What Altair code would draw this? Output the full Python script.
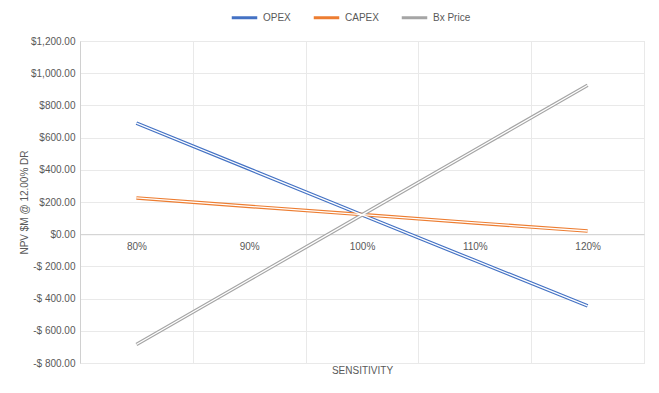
import altair as alt
import pandas as pd

sensitivity = [0.8, 0.9, 1.0, 1.1, 1.2]
opex = [690, 405, 120, -163, -445]
capex = [225, 173, 122, 70, 20]
bx_price = [-685, -283, 120, 523, 925]
series_names = ["OPEX", "CAPEX", "Bx Price"]
series_colors = ["#4472C4", "#ED7D31", "#A5A5A5"]
y_ticks = [-800, -600, -400, -200, 0, 200, 400, 600, 800, 1000, 1200]
x_grid = [0.75, 0.85, 0.95, 1.05, 1.15, 1.25]

rows = []
for name, vals in zip(series_names, [opex, capex, bx_price]):
    for s, v in zip(sensitivity, vals):
        rows.append({"series": name, "sens": s, "value": v})
df = pd.DataFrame(rows)

FONT = "Liberation Sans"
TXT = "#595959"
GRID = "#e9e9e9"
DOMAIN = "#d0d0d0"
W, H = 564, 322

yscale = alt.Scale(domain=[-800, 1200], nice=False, zero=False)
xscale = alt.Scale(domain=[0.75, 1.25], nice=False, zero=False)

y_axis = alt.Axis(
    values=y_ticks,
    labelExpr="datum.value >= 0 ? '$' + format(datum.value, ',.2f') : '-$ ' + format(-datum.value, ',.2f')",
    grid=True, gridColor=GRID, domain=True, domainColor=DOMAIN,
    ticks=False, tickSize=0, labelPadding=5,
    labelFont=FONT, labelFontSize=10, labelColor=TXT,
    title="NPV $M @ 12.00% DR", titleFont=FONT, titleFontSize=10, titleColor=TXT,
    titleFontWeight="normal", titleAngle=270, titleX=-56, titleY=H / 2,
    titleBaseline="middle", titleAlign="center",
)

zero_offset = -(0 - (-800)) / 2000 * H

grid_axis = alt.Axis(values=x_grid, grid=True, gridColor=GRID, labels=False, ticks=False,
                     domain=False, title=None, orient="bottom")
label_axis = alt.Axis(values=sensitivity, format=".0%", grid=False, ticks=False, tickSize=0,
                      domain=True, domainColor=DOMAIN, orient="bottom", offset=zero_offset,
                      labelPadding=7, labelFont=FONT, labelFontSize=10, labelColor=TXT,
                      title="SENSITIVITY", titleFont=FONT, titleFontSize=10, titleColor=TXT,
                      titleFontWeight="normal", titleY=-zero_offset + 7, titleBaseline="middle")

color = alt.Color("series:N", sort=series_names,
                  scale=alt.Scale(domain=series_names, range=series_colors),
                  legend=alt.Legend(orient="none", legendX=150, legendY=-38, direction="horizontal",
                                    title=None, symbolType="stroke", symbolStrokeWidth=3,
                                    symbolSize=650, labelFont=FONT, labelFontSize=10,
                                    labelColor=TXT, columnPadding=16, labelOffset=4))

base = alt.Chart(df)
colored = base.mark_line(strokeWidth=3.6).encode(
    x=alt.X("sens:Q", scale=xscale, axis=grid_axis),
    y=alt.Y("value:Q", scale=yscale, axis=y_axis),
    color=color,
    order=alt.Order("sens:Q"),
)
inner = base.mark_line(strokeWidth=1.3, color="white").encode(
    x=alt.X("sens:Q", scale=xscale, axis=label_axis),
    y=alt.Y("value:Q", scale=yscale, axis=y_axis),
    detail="series:N",
    order=alt.Order("sens:Q"),
)

chart = alt.layer(colored, inner).resolve_axis(x="independent").resolve_scale(x="shared").properties(
    width=W, height=H,
    autosize=alt.AutoSizeParams(type="none"),
    padding={"left": 72, "top": 33, "right": 7, "bottom": 22},
).configure_view(stroke=None).configure_axis(gridColor=GRID).configure(background="white")

chart.save("out.html", embed_options={"renderer": "svg", "actions": False})
